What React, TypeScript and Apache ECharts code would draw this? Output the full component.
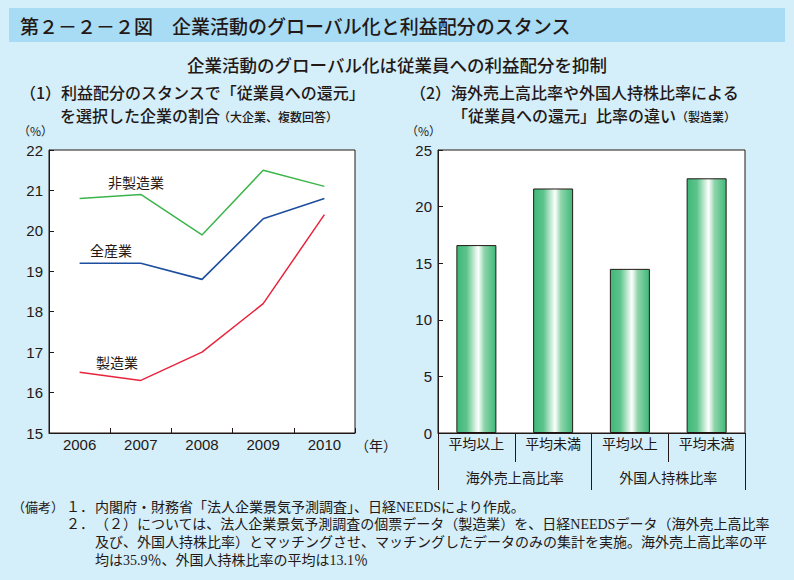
import React, { useEffect, useRef } from "react";
import * as echarts from "echarts";

const years = ["2006", "2007", "2008", "2009", "2010"];
const nonManufacturing = [20.8, 20.9, 19.9, 21.5, 21.1];
const allIndustries = [19.2, 19.2, 18.8, 20.3, 20.8];
const manufacturing = [16.5, 16.3, 17.0, 18.2, 20.4];

const barCategories = ["平均以上", "平均未満", "平均以上", "平均未満"];
const barGroups = ["海外売上高比率", "外国人持株比率"];
const barValues = [16.6, 21.6, 14.5, 22.5];

const leftTicks = { min: 15, max: 22, interval: 1 };
const rightTicks = { min: 0, max: 25, interval: 5 };

const SANS = "'Liberation Sans', Arial, 'Noto Sans CJK JP', sans-serif";
const JP = "'Noto Sans CJK JP', sans-serif";
const SERIF = "'Liberation Serif', 'Noto Sans CJK JP', serif";
const INK = "#231815";

function txt(text: string, x: number, y: number, fontSize: number, extra: any = {}) {
  return {
    type: "text",
    silent: true,
    style: {
      text,
      x,
      y,
      fontSize,
      fontFamily: JP,
      fill: INK,
      textAlign: "left",
      textVerticalAlign: "middle",
      ...extra,
    },
  };
}

export default function App() {
  const ref = useRef<HTMLDivElement>(null);
  useEffect(() => {
    if (!ref.current) return;
    const chart = echarts.init(ref.current, undefined, { renderer: "svg" });
    const barGradient = new echarts.graphic.LinearGradient(0, 0, 1, 0, [
      { offset: 0, color: "#3fb97a" },
      { offset: 0.25, color: "#5cc38b" },
      { offset: 0.45, color: "#c8ecd6" },
      { offset: 0.55, color: "#ffffff" },
      { offset: 0.7, color: "#8fd5ab" },
      { offset: 1, color: "#3fb97a" },
    ]);
    const axisLabelStyle = { color: INK, fontSize: 15, fontFamily: SANS };
    chart.setOption({
      animation: false,
      backgroundColor: "#d4eefa",
      grid: [
        { left: 49, top: 150, width: 306, height: 283, show: true, backgroundColor: "#ffffff", borderColor: INK, borderWidth: 1 },
        { left: 438, top: 150, width: 307, height: 283, show: true, backgroundColor: "#ffffff", borderColor: INK, borderWidth: 1 },
      ],
      xAxis: [
        {
          type: "category",
          gridIndex: 0,
          data: years,
          boundaryGap: true,
          axisLine: { lineStyle: { color: INK, width: 1 } },
          axisTick: { show: true, inside: true, length: 5, interval: 0, lineStyle: { color: INK } },
          axisLabel: { ...axisLabelStyle, margin: 4 },
        },
        {
          type: "category",
          gridIndex: 1,
          data: barCategories,
          boundaryGap: true,
          axisLine: { lineStyle: { color: INK, width: 1 } },
          axisTick: { show: true, inside: false, length: 29, interval: 0, lineStyle: { color: INK } },
          axisLabel: { color: INK, fontSize: 14, fontFamily: JP, margin: 3, interval: 0 },
        },
        {
          type: "category",
          gridIndex: 1,
          data: barGroups,
          position: "bottom",
          boundaryGap: true,
          axisLine: { show: false },
          axisTick: { show: true, inside: false, length: 57, interval: 0, lineStyle: { color: INK } },
          axisLabel: { color: INK, fontSize: 14, fontFamily: JP, margin: 37, interval: 0 },
        },
      ],
      yAxis: [
        {
          type: "value",
          gridIndex: 0,
          min: leftTicks.min,
          max: leftTicks.max,
          interval: leftTicks.interval,
          axisLine: { show: true, lineStyle: { color: INK } },
          axisTick: { show: true, inside: true, length: 5, lineStyle: { color: INK } },
          splitLine: { show: false },
          axisLabel: { ...axisLabelStyle, margin: 6 },
        },
        {
          type: "value",
          gridIndex: 1,
          min: rightTicks.min,
          max: rightTicks.max,
          interval: rightTicks.interval,
          axisLine: { show: true, lineStyle: { color: INK } },
          axisTick: { show: true, inside: true, length: 5, lineStyle: { color: INK } },
          splitLine: { show: false },
          axisLabel: { ...axisLabelStyle, margin: 6 },
        },
      ],
      series: [
        {
          name: "非製造業",
          type: "line",
          xAxisIndex: 0,
          yAxisIndex: 0,
          data: nonManufacturing,
          symbol: "none",
          lineStyle: { color: "#3bb54b", width: 1.5 },
        },
        {
          name: "全産業",
          type: "line",
          xAxisIndex: 0,
          yAxisIndex: 0,
          data: allIndustries,
          symbol: "none",
          lineStyle: { color: "#1d4e9e", width: 1.6 },
        },
        {
          name: "製造業",
          type: "line",
          xAxisIndex: 0,
          yAxisIndex: 0,
          data: manufacturing,
          symbol: "none",
          lineStyle: { color: "#e8243c", width: 1.5 },
        },
        {
          name: "従業員への還元比率",
          type: "bar",
          xAxisIndex: 1,
          yAxisIndex: 1,
          data: barValues,
          barWidth: 40,
          itemStyle: { color: barGradient, borderColor: INK, borderWidth: 1 },
        },
      ],
      graphic: [
        { type: "rect", silent: true, shape: { x: 9, y: 8, width: 776, height: 34 }, style: { fill: "#a8dcf4" } },
        txt("第２－２－２図　企業活動のグローバル化と利益配分のスタンス", 20, 25, 19, { fontWeight: 500 }),
        txt("企業活動のグローバル化は従業員への利益配分を抑制", 397, 64, 17.5, { textAlign: "center", fontWeight: 500 }),
        txt("（1）利益配分のスタンスで「従業員への還元」", 20, 92, 16, { fontWeight: 500 }),
        txt("を選択した企業の割合", 60, 115, 16, { fontWeight: 500 }),
        txt("（大企業、複数回答）", 218, 116, 12, { fontWeight: 500 }),
        txt("（2）海外売上高比率や外国人持株比率による", 410, 92, 16, { fontWeight: 500 }),
        txt("「従業員への還元」比率の違い", 452, 115, 16, { fontWeight: 500 }),
        txt("（製造業）", 676, 116, 12, { fontWeight: 500 }),
        txt("（%）", 18, 130, 12),
        txt("（%）", 406, 130, 12),
        txt("（年）", 355, 445, 14),
        txt("非製造業", 136, 182, 14, { textAlign: "center" }),
        txt("全産業", 111, 250, 14, { textAlign: "center" }),
        txt("製造業", 117, 362, 14, { textAlign: "center" }),
        txt("（備考）", 12, 507, 13, { fontFamily: SERIF }),
        txt("１．", 66, 507, 14, { fontFamily: SERIF }),
        txt("内閣府・財務省「法人企業景気予測調査」、日経NEEDSにより作成。", 95, 507, 14, { fontFamily: SERIF }),
        txt("２．", 66, 524, 14, { fontFamily: SERIF }),
        txt("（２）については、法人企業景気予測調査の個票データ（製造業）を、日経NEEDSデータ（海外売上高比率", 95, 524, 14, { fontFamily: SERIF }),
        txt("及び、外国人持株比率）とマッチングさせ、マッチングしたデータのみの集計を実施。海外売上高比率の平", 95, 542, 14, { fontFamily: SERIF }),
        txt("均は35.9％、外国人持株比率の平均は13.1％", 95, 560, 14, { fontFamily: SERIF }),
      ],
    });
    return () => chart.dispose();
  }, []);
  return <div ref={ref} style={{ position: "fixed", left: 0, top: 0, width: 794, height: 580 }} />;
}
